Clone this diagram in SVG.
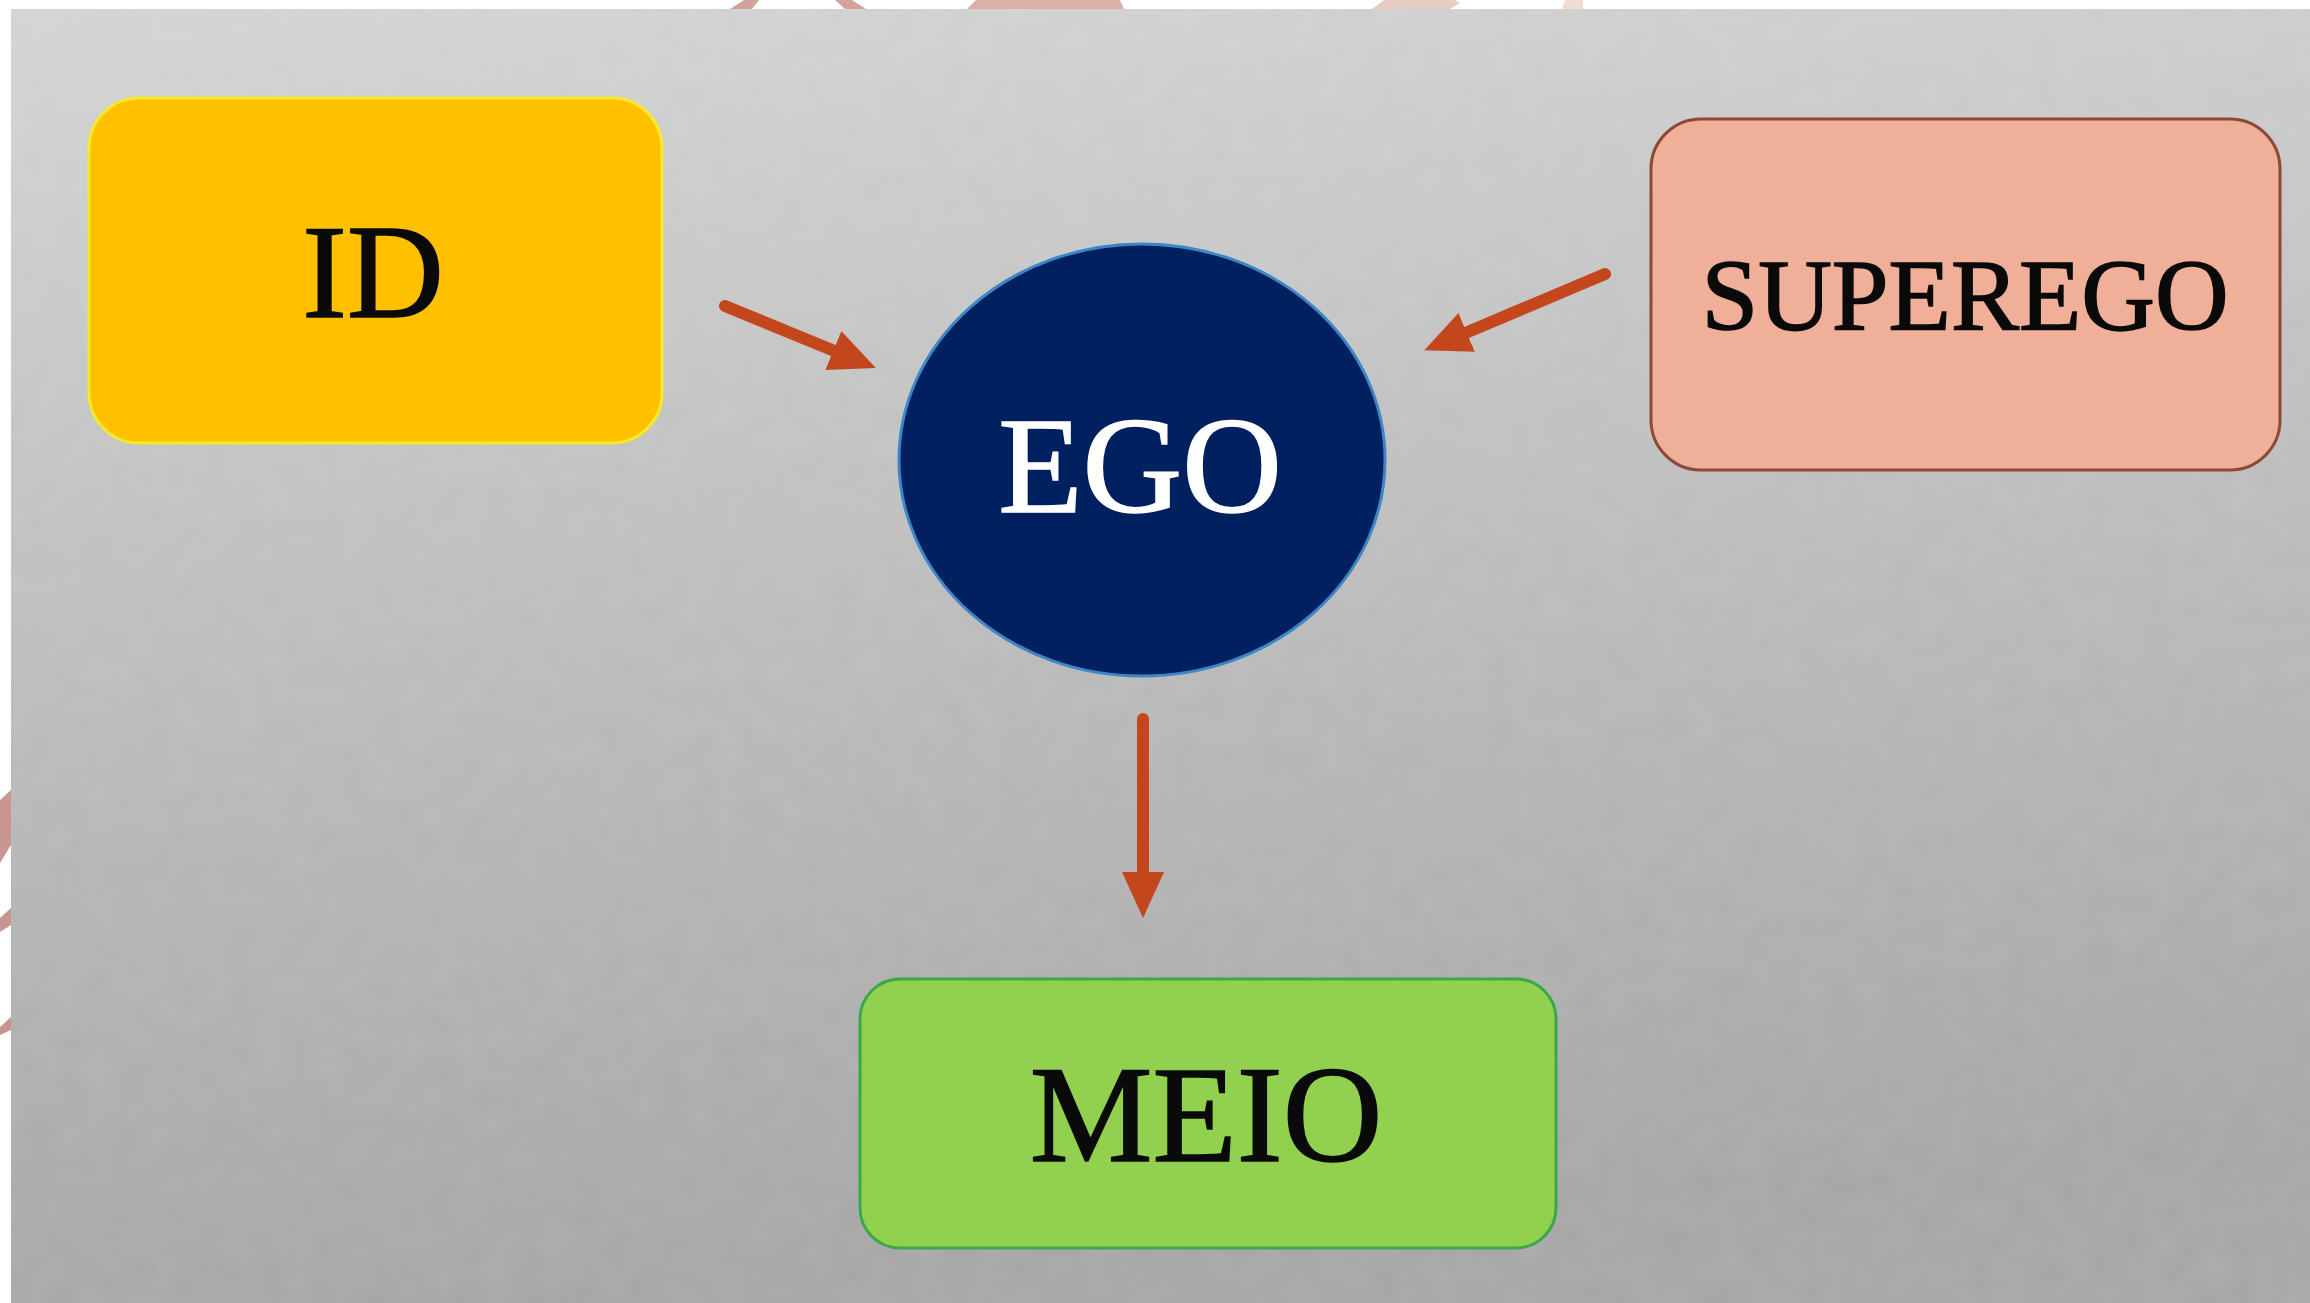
<svg xmlns="http://www.w3.org/2000/svg" width="2310" height="1303" viewBox="0 0 2310 1303">
  <style>
    .label { font-family: "Liberation Serif", Tinos, "Times New Roman", Times, serif; text-anchor: middle; stroke-width: 1.6; }
    .dark { fill: #0a0a0a; stroke: #0a0a0a; }
    .light { fill: #ffffff; stroke: #ffffff; }
    .conn { stroke: #c4461c; stroke-width: 12; stroke-linecap: round; fill: none; marker-end: url(#head); }
    .frag { fill: #d4a29d; }
  </style>
  <defs>
    <linearGradient id="bg" x1="0" y1="0" x2="0.15" y2="1">
      <stop offset="0" stop-color="#d4d4d4"/>
      <stop offset="0.5" stop-color="#bdbdbd"/>
      <stop offset="1" stop-color="#a7a7a7"/>
    </linearGradient>
    <filter id="tex" x="0" y="0" width="100%" height="100%">
      <feTurbulence type="fractalNoise" baseFrequency="0.035" numOctaves="3" seed="7"/>
      <feColorMatrix type="matrix" values="0 0 0 0 1  0 0 0 0 1  0 0 0 0 1  0 0 0 0.09 -0.02"/>
    </filter>
    <marker id="head" viewBox="0 0 46 42" refX="4" refY="21" markerWidth="46" markerHeight="42" markerUnits="userSpaceOnUse" orient="auto">
      <path d="M0,0 L46,21 L0,42 z" fill="#c4461c"/>
    </marker>
  </defs>

  <g id="background">
    <rect x="0" y="0" width="2310" height="1303" fill="#ffffff"/>
    <rect x="11" y="9" width="2299" height="1294" fill="url(#bg)"/>
    <rect x="11" y="9" width="2299" height="1294" filter="url(#tex)"/>
    <polygon class="frag" points="730,9 744,0 759,0 752,9"/>
    <polygon class="frag" points="835,0 852,0 866,9 845,9"/>
    <polygon points="967,9 976,0 1120,0 1124,9" fill="#dcb0a8"/>
    <polygon points="1372,9 1384,0 1455,0 1460,3 1450,9" fill="#e8cdc3"/>
    <polygon points="1562,9 1565,0 1583,0 1583,9" fill="#f0dcd4"/>
    <polygon points="0,800 11,790 11,845 0,863" fill="#c89590"/>
    <polygon points="0,918 11,908 11,925 0,932" fill="#c89590"/>
    <polygon points="0,1027 11,1017 11,1030 0,1035" fill="#c89590"/>
  </g>

  <g id="connectors">
    <line class="conn" x1="725" y1="306" x2="837" y2="352"/>
    <line class="conn" x1="1605" y1="274" x2="1463" y2="334"/>
    <line class="conn" x1="1143" y1="719" x2="1143" y2="876"/>
  </g>

  <g id="node-id">
    <rect x="89" y="98" width="573" height="345" rx="50" ry="50" fill="#ffc000" stroke="#f2ea2a" stroke-width="3"/>
    <text class="label dark" x="373" y="317" font-size="134">ID</text>
  </g>

  <g id="node-superego">
    <rect x="1651" y="119" width="629" height="351" rx="50" ry="50" fill="#f0af98" stroke="#8c4a36" stroke-width="3"/>
    <text class="label dark" x="1965" y="330" font-size="102">SUPEREGO</text>
  </g>

  <g id="node-ego">
    <ellipse cx="1142" cy="460" rx="243" ry="216" fill="#002060" stroke="#3d86c6" stroke-width="3"/>
    <text class="label light" x="1140" y="512" font-size="138">EGO</text>
  </g>

  <g id="node-meio">
    <rect x="860" y="979" width="696" height="269" rx="40" ry="40" fill="#92d050" stroke="#3aa84a" stroke-width="3"/>
    <text class="label dark" x="1206" y="1161" font-size="138">MEIO</text>
  </g>
</svg>
